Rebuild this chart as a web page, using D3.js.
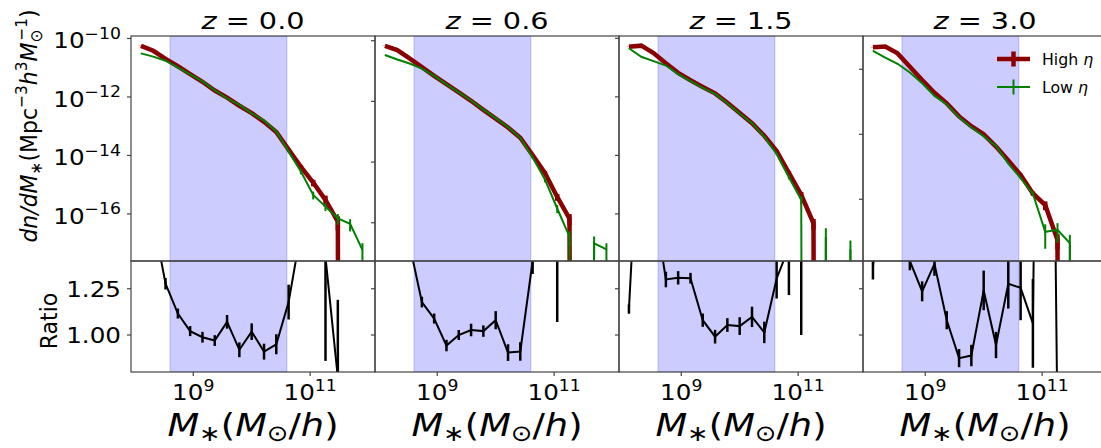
<!DOCTYPE html>
<html><head><meta charset="utf-8">
<script src="https://cdn.jsdelivr.net/npm/d3@7"></script>
<style>body{margin:0;background:#fff;}svg{display:block;}text{font-family:"DejaVu Sans",sans-serif;fill:#000;}</style>
</head><body><svg id="c" width="1101" height="448"></svg>
<script>
// ---------- DATA ----------
const logMass = [8.105, 8.316, 8.526, 8.737, 8.947, 9.158, 9.368, 9.579, 9.789, 10.000, 10.211, 10.421, 10.632, 10.842, 11.053, 11.263, 11.474, 11.684, 11.895];
const redshifts = ["0.0", "0.6", "1.5", "3.0"];
const seriesNames = ["High η", "Low η"];
// log10 dn/dM ; null = empty bin (zero)
const highZ00 = [-10.25, -10.42, -10.70, -10.95, -11.22, -11.48, -11.78, -12.02, -12.30, -12.55, -12.85, -13.20, -13.80, -14.39, -14.93, -15.52, -16.26, null, null];
const lowZ00  = [-10.51, -10.62, -10.76, -11.00, -11.23, -11.47, -11.77, -12.05, -12.27, -12.56, -12.81, -13.18, -13.87, -14.55, -15.35, -15.75, -16.15, -16.34, -17.23];
const highZ06 = [-10.17, -10.31, -10.58, -10.87, -11.16, -11.43, -11.70, -11.98, -12.28, -12.57, -12.86, -13.20, -13.77, -14.36, -15.15, -15.86, null, null, null];
const lowZ06  = [-10.47, -10.62, -10.75, -10.92, -11.16, -11.44, -11.70, -11.97, -12.27, -12.55, -12.85, -13.20, -13.85, -14.57, -15.53, -16.46, null, -16.68, -16.88];
const highZ15 = [-10.29, -10.25, -10.50, -10.85, -11.18, -11.43, -11.66, -11.88, -12.20, -12.55, -12.90, -13.33, -13.85, -14.60, -15.35, -16.32, null, null, null];
const lowZ15  = [-10.34, -10.63, -10.78, -10.93, -11.22, -11.46, -11.69, -11.90, -12.22, -12.57, -12.90, -13.36, -13.95, -14.75, -15.52, null, -16.79, null, -17.21];
const highZ30 = [-10.32, -10.30, -10.51, -10.92, -11.33, -11.72, -12.05, -12.45, -12.75, -13.00, -13.38, -13.81, -14.25, -14.82, -15.18, -16.25, null, null, null];
const lowZ30  = [-10.43, -10.64, -10.83, -11.10, -11.43, -11.82, -12.08, -12.48, -12.79, -13.06, -13.36, -13.90, -14.35, -14.83, -16.00, -15.94, -16.35, null, null];
// relative (fractional) errors
const highErrZ00 = [0.01,0.01,0.01,0.01,0.01,0.01,0.02,0.02,0.02,0.03,0.03,0.04,0.08,0.15,0.25,0.40,0.50,null,null];
const lowErrZ00  = [0.01,0.01,0.01,0.01,0.01,0.01,0.02,0.02,0.02,0.03,0.03,0.04,0.08,0.20,0.30,0.30,0.40,0.45,0.70];
const highErrZ06 = [0.01,0.01,0.01,0.01,0.01,0.01,0.02,0.02,0.02,0.03,0.03,0.04,0.08,0.15,0.25,0.40,null,null,null];
const lowErrZ06  = [0.01,0.01,0.01,0.01,0.01,0.01,0.02,0.02,0.02,0.03,0.03,0.04,0.08,0.20,0.30,0.50,null,0.70,0.60];
const highErrZ15 = [0.01,0.01,0.01,0.01,0.01,0.01,0.02,0.02,0.02,0.03,0.03,0.04,0.08,0.15,0.25,0.40,null,null,null];
const lowErrZ15  = [0.01,0.01,0.01,0.01,0.01,0.01,0.02,0.02,0.02,0.03,0.03,0.04,0.08,0.15,0.30,null,1.00,null,1.00];
const highErrZ30 = [0.01,0.01,0.01,0.01,0.01,0.01,0.02,0.02,0.02,0.03,0.03,0.04,0.08,0.15,0.30,0.50,null,null,null];
const lowErrZ30  = [0.01,0.01,0.01,0.01,0.01,0.01,0.02,0.02,0.02,0.03,0.03,0.04,0.08,0.15,0.70,0.60,0.80,null,null];
// ratio High/Low
const ratioZ00 = [1.82, 1.63, 1.277, 1.116, 1.021, 0.988, 0.970, 1.071, 0.920, 1.018, 0.910, 0.950, 1.178, 1.56, 2.60, 1.42, 0.77, null, null];
const ratioErrZ00 = [0.05, 0.04, 0.031, 0.027, 0.027, 0.029, 0.029, 0.037, 0.040, 0.045, 0.043, 0.054, 0.094, 0.12, 0.50, 0.56, 0.42, null, null];
const ratioZ06 = [2.00, 2.04, 1.49, 1.178, 1.089, 0.943, 1.000, 1.027, 1.021, 1.080, 0.905, 0.911, 1.40, 1.62, 1.90, 4.00, null, null, null];
const ratioErrZ06 = [0.06, 0.06, 0.05, 0.029, 0.027, 0.031, 0.027, 0.034, 0.031, 0.049, 0.045, 0.050, 0.07, 0.15, 0.83, 2.00, null, null, null];
const ratioZ15 = [1.14, 2.40, 1.74, 1.300, 1.309, 1.307, 1.080, 0.991, 1.054, 1.048, 1.098, 1.014, 1.304, 1.476, 1.50, null, null, null, null];
const ratioErrZ15 = [0.025, 0.20, 0.10, 0.042, 0.036, 0.029, 0.036, 0.037, 0.037, 0.048, 0.055, 0.058, 0.107, 0.26, 0.50, null, null, null, null];
const ratioZ30 = [1.37, 2.00, 1.90, 1.40, 1.236, 1.384, 1.080, 0.875, 0.889, 1.241, 0.946, 1.277, 1.255, 1.063, 6.60, 0.49, null, null, null];
const ratioErrZ30 = [0.07, 0.20, 0.20, 0.05, 0.054, 0.064, 0.049, 0.049, 0.058, 0.107, 0.071, 0.134, 0.175, 0.24, 3.00, 0.30, null, null, null];
const shadeRange = [4e8, 4e10];
const xTickValues = [1e9, 1e11];
const yTickValues = [[1e-10,1e-12,1e-14,1e-16],[1e-10,1e-12,1e-14,1e-16],[1e-10,1e-12,1e-14,1e-16],[1e-11,1e-13,1e-15]];
const ratioTickValues = [1.00, 1.25];
const ratioTickLabels = ["1.00", "1.25"];

// ---------- LAYOUT ----------
const panelLeft = [131, 375, 619, 863], panelW = 244;
const topY0 = 36, topY1 = 261, botY1 = 372;
const xDomainExp = [7.935, 12.11];
const yDomainExp = [[-17.61,-9.915],[-17.26,-9.845],[-17.61,-9.92],[-16.90,-9.975]];
const ratioDomain = [0.80, 1.40];
const RED = "#8b0000", GREEN = "#008000", FRAME = "#444";
const SX = 1.12;

const panels = redshifts.map((z,i)=>({
  z,
  high: [highZ00,highZ06,highZ15,highZ30][i],
  low: [lowZ00,lowZ06,lowZ15,lowZ30][i],
  highErr: [highErrZ00,highErrZ06,highErrZ15,highErrZ30][i],
  lowErr: [lowErrZ00,lowErrZ06,lowErrZ15,lowErrZ30][i],
  ratio: [ratioZ00,ratioZ06,ratioZ15,ratioZ30][i],
  ratioErr: [ratioErrZ00,ratioErrZ06,ratioErrZ15,ratioErrZ30][i]
}));

const svg = d3.select("#c");
const defs = svg.append("defs");

function mathText(parent, spans, o) {
  const sx = o.sx == null ? SX : o.sx;
  const t = parent.append("text")
    .attr("transform", `translate(${o.x},${o.y}) scale(${sx},1)` + (o.rotate ? " rotate(-90)" : ""))
    .attr("text-anchor", o.anchor || "start").attr("font-size", o.size);
  let cur = 0;
  spans.forEach(s => {
    const fs = (s.sup || s.sub) ? o.size * 0.7 : o.size;
    const shift = s.sup ? -o.size * (o.supRaise || 0.44) : s.sub ? o.size * (o.subDrop || 0.22) : 0;
    const ts = t.append("tspan").text(s.t).attr("font-size", fs).attr("dy", shift - cur);
    if (s.it) ts.attr("font-style", "italic");
    if (s.dx) ts.attr("dx", s.dx);
    cur = shift;
  });
  return t;
}

panels.forEach((p, i) => {
  const L = panelLeft[i], R = L + panelW;
  const x = d3.scaleLog().domain(xDomainExp.map(e => Math.pow(10, e))).range([L, R]);
  const y = d3.scaleLog().domain(yDomainExp[i].map(e => Math.pow(10, e))).range([topY1, topY0]);
  const yr = d3.scaleLinear().domain(ratioDomain).range([botY1, topY1]);
  const g = svg.append("g");

  defs.append("clipPath").attr("id", "ct" + i).append("rect").attr("x", L).attr("y", topY0).attr("width", panelW).attr("height", topY1 - topY0);
  defs.append("clipPath").attr("id", "cb" + i).append("rect").attr("x", L).attr("y", topY1).attr("width", panelW).attr("height", botY1 - topY1);

  const gt = g.append("g").attr("clip-path", `url(#ct${i})`);
  const gb = g.append("g").attr("clip-path", `url(#cb${i})`);

  // shading
  [[gt, topY0, topY1], [gb, topY1, botY1]].forEach(([gg, a, b]) => {
    gg.append("rect").attr("x", x(shadeRange[0])).attr("y", a)
      .attr("width", x(shadeRange[1]) - x(shadeRange[0])).attr("height", b - a)
      .attr("fill", "rgb(204,204,255)").attr("stroke", "rgba(0,0,255,0.2)").attr("stroke-width", 1);
  });

  const FAR = topY1 + 4000;
  const yv = v => v == null ? FAR : y(Math.pow(10, v));
  const drawSeries = (vals, errs, color, lw) => {
    const pts = logMass.map((m, k) => [x(Math.pow(10, m)), yv(vals[k])]);
    gt.append("path").attr("d", d3.line()(pts)).attr("fill", "none")
      .attr("stroke", color).attr("stroke-width", lw).attr("stroke-linejoin", "miter").attr("stroke-miterlimit", 3);
    logMass.forEach((m, k) => {
      const v = vals[k], e = errs[k];
      if (v == null || e == null) return;
      const lin = Math.pow(10, v);
      const up = lin * (1 + e), lo = lin * (1 - e);
      gt.append("line").attr("x1", x(Math.pow(10, m))).attr("x2", x(Math.pow(10, m)))
        .attr("y1", y(up)).attr("y2", lo > 0 ? y(lo) : FAR)
        .attr("stroke", color).attr("stroke-width", lw);
    });
  };
  drawSeries(p.high, p.highErr, RED, 4.5);
  drawSeries(p.low, p.lowErr, GREEN, 2);

  // ratio
  const rl = d3.line().defined(d => d[1] != null).x(d => x(Math.pow(10, d[0]))).y(d => yr(d[1]));
  gb.append("path").attr("d", rl(logMass.map((m, k) => [m, p.ratio[k]]))).attr("fill", "none")
    .attr("stroke", "#000").attr("stroke-width", 2);
  logMass.forEach((m, k) => {
    const r = p.ratio[k], e = p.ratioErr[k];
    if (r == null || e == null) return;
    gb.append("line").attr("x1", x(Math.pow(10, m))).attr("x2", x(Math.pow(10, m)))
      .attr("y1", yr(r + e)).attr("y2", yr(r - e)).attr("stroke", "#000").attr("stroke-width", 2.5);
  });

  // frames
  g.append("rect").attr("x", L).attr("y", topY0).attr("width", panelW).attr("height", topY1 - topY0)
    .attr("fill", "none").attr("stroke", FRAME).attr("stroke-width", 1.2);
  g.append("rect").attr("x", L).attr("y", topY1).attr("width", panelW).attr("height", botY1 - topY1)
    .attr("fill", "none").attr("stroke", FRAME).attr("stroke-width", 1.2);

  // y ticks top
  yTickValues[i].forEach(v => {
    const yy = y(v);
    g.append("line").attr("x1", L - 4).attr("x2", L).attr("y1", yy).attr("y2", yy).attr("stroke", FRAME).attr("stroke-width", 1.2);
    if (i === 0) {
      const ex = Math.round(Math.log10(v));
      mathText(g, [{t: "10"}, {t: "\u2212" + Math.abs(ex), sup: true}], {x: L - 10, y: yy + 10, size: 22, anchor: "end", supRaise: 0.45});
    }
  });
  // ratio ticks
  ratioTickValues.forEach((v, k) => {
    const yy = yr(v);
    g.append("line").attr("x1", L - 4).attr("x2", L).attr("y1", yy).attr("y2", yy).attr("stroke", FRAME).attr("stroke-width", 1.2);
    if (i === 0) mathText(g, [{t: ratioTickLabels[k]}], {x: L - 10, y: yy + 8, size: 22, anchor: "end"});
  });
  // x ticks
  xTickValues.forEach(v => {
    const xx = x(v);
    g.append("line").attr("x1", xx).attr("x2", xx).attr("y1", botY1).attr("y2", botY1 + 4).attr("stroke", FRAME).attr("stroke-width", 1.2);
    mathText(g, [{t: "10"}, {t: String(Math.round(Math.log10(v))), sup: true}], {x: xx, y: 400, size: 22, anchor: "middle", supRaise: 0.42});
  });

  // title
  mathText(g, [{t: "z", it: true}, {t: " = " + p.z}], {x: (L + R) / 2, y: 29, size: 23, anchor: "middle", sx: 1.25});
  // x label
  mathText(g, [{t: "M", it: true}, {t: "\u2217", sub: true}, {t: "("}, {t: "M", it: true}, {t: "\u2299", sub: true}, {t: "/"}, {t: "h", it: true}, {t: ")"}],
    {x: (L + R) / 2, y: 436, size: 32, anchor: "middle", subDrop: 0.16, sx: 1.15});

  if (i === 3) {
    const lg = g.append("g");
    const items = [{c: RED, w: 4.5, y: 59}, {c: GREEN, w: 2, y: 87}];
    items.forEach((it, k) => {
      lg.append("line").attr("x1", 997).attr("x2", 1030).attr("y1", it.y).attr("y2", it.y).attr("stroke", it.c).attr("stroke-width", it.w);
      lg.append("line").attr("x1", 1013.5).attr("x2", 1013.5).attr("y1", it.y - 7.5).attr("y2", it.y + 7.5).attr("stroke", it.c).attr("stroke-width", it.w);
      const nm = seriesNames[k].split(" ");
      mathText(lg, [{t: nm[0] + " "}, {t: nm[1], it: true}], {x: 1042, y: it.y + 5.5, size: 15, anchor: "start", sx: 1.05});
    });
  }
});

// y labels
mathText(svg, [{t: "dn/dM", it: true}, {t: "\u2217", sub: true}, {t: "(Mpc"}, {t: "\u22123", sup: true}, {t: "h", it: true}, {t: "3", sup: true},
  {t: "M", it: true}, {t: "\u2299", sub: true}, {t: "\u22121", sup: true, dx: -11}, {t: ")"}],
  {x: 37, y: 126, size: 22, anchor: "middle", rotate: true, sx: 1.08});
mathText(svg, [{t: "Ratio"}], {x: 57, y: 321, size: 22, anchor: "middle", rotate: true, sx: 1.08});
</script></body></html>
